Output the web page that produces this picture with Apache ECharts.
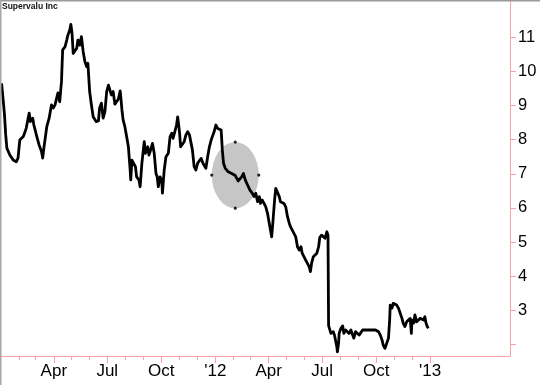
<!DOCTYPE html>
<html><head><meta charset="utf-8">
<script src="https://cdn.jsdelivr.net/npm/echarts@6/dist/echarts.min.js"></script>
<style>html,body{margin:0;padding:0;background:#fff}#c{width:540px;height:385px}</style>
</head><body><div id="c"></div><script>
const chartTitle = 'Supervalu Inc';
const dates = [
'2011-01-02','2011-01-05','2011-01-07','2011-01-09','2011-01-11','2011-01-16','2011-01-22','2011-01-27','2011-01-30',
'2011-02-02','2011-02-08','2011-02-11','2011-02-13','2011-02-18','2011-02-20','2011-02-24','2011-02-26',
'2011-03-03','2011-03-07','2011-03-11','2011-03-13','2011-03-15','2011-03-20','2011-03-24','2011-03-28','2011-03-31',
'2011-04-03','2011-04-06','2011-04-08','2011-04-11','2011-04-14','2011-04-16','2011-04-20','2011-04-23','2011-04-25','2011-04-28','2011-04-30',
'2011-05-02','2011-05-04','2011-05-07','2011-05-10','2011-05-12','2011-05-15','2011-05-18','2011-05-21','2011-05-24','2011-05-27','2011-05-29',
'2011-06-01','2011-06-04','2011-06-07','2011-06-12','2011-06-16','2011-06-18','2011-06-21','2011-06-24','2011-06-27','2011-06-30',
'2011-07-03','2011-07-05','2011-07-08','2011-07-11','2011-07-14','2011-07-17','2011-07-20','2011-07-23','2011-07-24','2011-07-26','2011-07-28','2011-07-31',
'2011-08-03','2011-08-06','2011-08-09','2011-08-10','2011-08-12','2011-08-15','2011-08-18','2011-08-20','2011-08-24','2011-08-26','2011-08-29',
'2011-09-02','2011-09-04','2011-09-08','2011-09-10','2011-09-13','2011-09-16','2011-09-19','2011-09-22','2011-09-24','2011-09-26','2011-09-29',
'2011-10-02','2011-10-03','2011-10-06','2011-10-09','2011-10-13','2011-10-16','2011-10-19','2011-10-21','2011-10-24','2011-10-27','2011-10-29',
'2011-11-01','2011-11-03','2011-11-06','2011-11-09','2011-11-12','2011-11-15','2011-11-18','2011-11-20','2011-11-23','2011-11-26','2011-11-29',
'2011-12-02','2011-12-05','2011-12-08','2011-12-11','2011-12-13','2011-12-16','2011-12-19','2011-12-22','2011-12-25','2011-12-28','2011-12-30',
'2012-01-02','2012-01-05','2012-01-08','2012-01-11','2012-01-13','2012-01-15','2012-01-18','2012-01-20','2012-01-23','2012-01-29',
'2012-02-04','2012-02-09','2012-02-15','2012-02-18','2012-02-21','2012-02-25','2012-02-29',
'2012-03-04','2012-03-07','2012-03-10','2012-03-13','2012-03-16','2012-03-18','2012-03-21','2012-03-24','2012-03-27','2012-03-30',
'2012-04-01','2012-04-04','2012-04-06','2012-04-08','2012-04-11','2012-04-13','2012-04-16','2012-04-19','2012-04-21','2012-04-24','2012-04-27','2012-04-30',
'2012-05-03','2012-05-06','2012-05-08','2012-05-11','2012-05-14','2012-05-17','2012-05-20','2012-05-23','2012-05-26','2012-05-28','2012-05-31',
'2012-06-03','2012-06-06','2012-06-09','2012-06-11','2012-06-13','2012-06-16','2012-06-19','2012-06-22','2012-06-25','2012-06-27','2012-06-30',
'2012-07-03','2012-07-06','2012-07-09','2012-07-11','2012-07-12','2012-07-16','2012-07-20','2012-07-22','2012-07-24','2012-07-26','2012-07-27','2012-07-29','2012-07-30',
'2012-08-02','2012-08-05','2012-08-07','2012-08-10','2012-08-13','2012-08-16','2012-08-19','2012-08-22','2012-08-24','2012-08-27','2012-08-30',
'2012-09-02','2012-09-05','2012-09-08','2012-09-10','2012-09-13','2012-09-19','2012-09-25','2012-09-30',
'2012-10-05','2012-10-08','2012-10-11','2012-10-13','2012-10-16','2012-10-19','2012-10-22','2012-10-24','2012-10-25','2012-10-28','2012-10-30',
'2012-11-02','2012-11-05','2012-11-08','2012-11-11','2012-11-14','2012-11-16','2012-11-19','2012-11-22','2012-11-25','2012-11-28','2012-11-30',
'2012-12-01','2012-12-04','2012-12-06','2012-12-09','2012-12-12','2012-12-15','2012-12-18','2012-12-21','2012-12-23','2012-12-25','2012-12-27','2012-12-29'
];
const prices = [
9.65,9.11,8.72,8.14,7.75,7.55,7.40,7.35,7.46,
7.99,8.09,8.23,8.34,8.78,8.53,8.63,8.43,
8.09,7.84,7.65,7.46,7.75,8.38,8.63,9.02,8.93,
9.02,9.07,9.37,9.11,9.70,10.63,10.72,10.92,11.07,11.21,11.38,
11.12,10.53,10.58,10.68,10.92,10.77,11.02,10.58,10.28,10.14,10.24,
9.41,9.02,8.67,8.53,8.55,8.93,9.07,8.63,8.82,9.41,
9.60,9.65,9.31,9.41,9.04,9.02,9.19,9.43,9.26,8.87,8.58,8.38,
8.09,7.79,7.11,6.82,7.40,7.45,7.21,6.91,6.82,6.62,7.31,
7.94,7.60,7.79,7.55,7.70,7.89,7.60,7.01,6.91,6.62,6.91,
6.77,6.43,7.11,7.50,7.60,8.09,8.19,8.04,8.23,8.43,8.67,
8.23,7.79,7.75,7.94,8.14,8.23,8.14,8.09,7.70,7.21,7.11,
7.31,7.35,7.45,7.31,7.35,7.16,7.50,7.79,7.99,8.14,8.23,
8.43,8.33,8.38,8.28,7.70,7.31,7.16,7.11,7.06,7.01,
6.95,6.79,6.91,7.01,6.82,6.67,6.52,
6.43,6.33,6.43,6.18,6.33,6.13,6.23,6.13,6.03,5.84,
5.64,5.35,5.15,5.55,6.23,6.57,6.52,6.33,6.18,6.18,6.13,6.03,
5.74,5.55,5.45,5.40,5.25,5.15,4.86,4.76,4.86,4.67,4.62,
4.47,4.37,4.27,4.13,4.37,4.57,4.62,4.67,4.86,5.13,5.20,
5.25,5.11,5.30,5.20,2.55,2.32,2.37,2.27,2.22,1.93,1.78,2.03,2.32,
2.47,2.54,2.32,2.42,2.37,2.32,2.42,2.27,2.18,2.37,2.32,
2.27,2.32,2.42,2.37,2.42,2.42,2.42,2.42,
2.37,2.27,2.13,1.98,1.88,1.93,2.18,2.71,3.15,3.06,3.20,
3.25,3.15,3.06,2.91,2.76,2.62,2.52,2.66,2.71,2.76,2.32,
2.71,2.62,2.86,2.66,2.71,2.76,2.71,2.71,2.81,2.62,2.52,2.47
];
const monthTicks = ['2011-02-01','2011-03-01','2011-04-01','2011-05-01','2011-06-01','2011-07-01','2011-08-01','2011-09-01','2011-10-01','2011-11-01','2011-12-01',
'2012-01-01','2012-02-01','2012-03-01','2012-04-01','2012-05-01','2012-06-01','2012-07-01','2012-08-01','2012-09-01','2012-10-01','2012-11-01','2012-12-01','2013-01-01'];
const labelTicks = ['2011-04-01','2011-07-01','2011-10-01','2012-01-01','2012-04-01','2012-07-01','2012-10-01','2013-01-01'];
const labelTexts = ['Apr','Jul','Oct',"'12",'Apr','Jul','Oct',"'13"];
const yTicks = [2,3,4,5,6,7,8,9,10,11];
const yLabels = [3,4,5,6,7,8,9,10,11];
const xRange = ['2011-01-01','2013-05-17'];
const yRange = [1.657, 12.065];
const note = {date:'2012-02-04', value:6.96, halfDays:40, halfValue:0.97};

function t(s){const p=s.split('-').map(Number);return Date.UTC(p[0],p[1]-1,p[2]);}
const axisPink = '#f4a6a6';
const font = "'Liberation Sans', Arial, sans-serif";
const labelTimes = labelTicks.map(t);

const chart = echarts.init(document.getElementById('c'), null, {renderer:'canvas'});
chart.setOption({
  animation:false,
  backgroundColor:'#fff',
  title:{text:chartTitle,left:2,top:2,padding:0,textStyle:{fontSize:8.5,fontWeight:'bold',color:'#111',fontFamily:font}},
  grid:{left:1,right:30,top:1,bottom:29,containLabel:false},
  xAxis:[
    {type:'value',min:t(xRange[0]),max:t(xRange[1]),position:'bottom',
     axisLine:{show:true,onZero:false,lineStyle:{color:axisPink,width:1}},
     axisTick:{show:true,length:4,lineStyle:{color:axisPink},customValues:monthTicks.map(t)},
     axisLabel:{show:false},splitLine:{show:false}},
    {type:'value',min:t(xRange[0]),max:t(xRange[1]),position:'bottom',
     axisLine:{show:false,onZero:false},
     axisTick:{show:true,length:7,lineStyle:{color:axisPink},customValues:labelTimes},
     axisLabel:{show:true,margin:7,fontSize:17,color:'#000',fontFamily:font,customValues:labelTimes,
       formatter:function(v){let best=-1,bd=Infinity;labelTimes.forEach((lt,i)=>{const d=Math.abs(lt-v);if(d<bd){bd=d;best=i;}});return bd<86400000*2?labelTexts[best]:'';}},
     splitLine:{show:false}}
  ],
  yAxis:{type:'value',position:'right',min:yRange[0],max:yRange[1],
    axisLine:{show:true,onZero:false,lineStyle:{color:axisPink,width:1}},
    axisTick:{show:true,length:6,lineStyle:{color:axisPink},customValues:yTicks},
    axisLabel:{show:true,margin:8,fontSize:16.5,color:'#000',fontFamily:font,customValues:yLabels},
    splitLine:{show:false}},
  series:[{type:'line',xAxisIndex:0,yAxisIndex:0,data:dates.map((d,i)=>[t(d),prices[i]]),
    showSymbol:false,symbol:'none',z:5,lineStyle:{color:'#000',width:2.8,join:'round'}}]
});

const c = chart.convertToPixel({seriesIndex:0},[t(note.date),note.value]);
const e = chart.convertToPixel({seriesIndex:0},[t(note.date)+note.halfDays*86400000,note.value+note.halfValue]);
const rx = e[0]-c[0], ry = c[1]-e[1];
const dot = (x,y)=>({type:'circle',shape:{cx:x,cy:y,r:1.6},style:{fill:'#222'},z:1});
chart.setOption({graphic:[
  {type:'circle',shape:{cx:0,cy:0,r:ry},x:c[0],y:c[1],scaleX:rx/ry,scaleY:1,style:{fill:'#c6c6c6'},z:0},
  dot(c[0]-rx,c[1]),dot(c[0]+rx,c[1]),dot(c[0],c[1]-ry),dot(c[0],c[1]+ry),
  {type:'line',shape:{x1:0,y1:0.75,x2:540,y2:0.75},style:{stroke:'#9a9a9a',lineWidth:1.5},z:10},
  {type:'line',shape:{x1:0.75,y1:0,x2:0.75,y2:385},style:{stroke:'#a8a8a8',lineWidth:1.5},z:10}
]});
</script></body></html>
